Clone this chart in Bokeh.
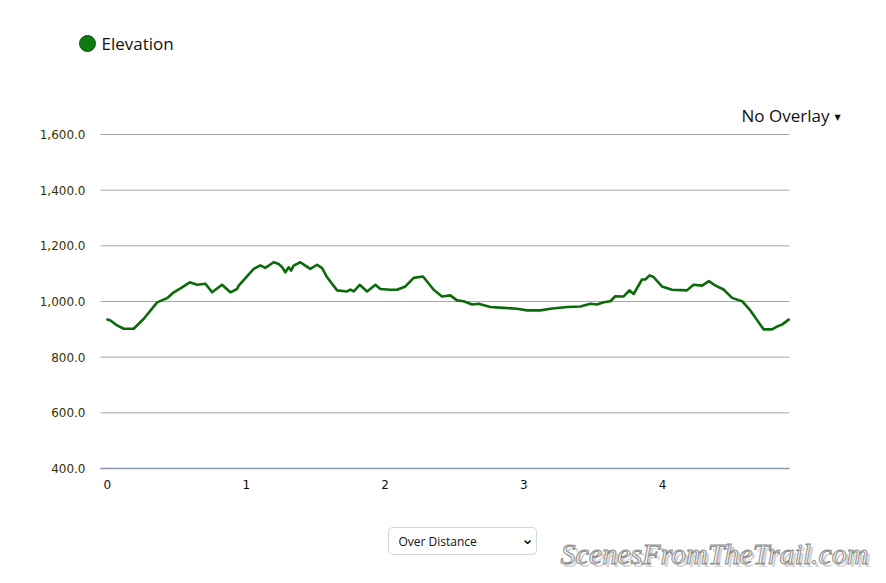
from bokeh.plotting import figure
from bokeh.models import BoxAnnotation, Range1d
from bokeh.core.properties import value
from bokeh.embed import file_html
from bokeh.resources import INLINE

# ---- data ----
distance_mi = [0.000, 0.022, 0.070, 0.117, 0.189, 0.262, 0.358, 0.430, 0.478, 0.538,
               0.593, 0.646, 0.706, 0.754, 0.826, 0.886, 0.934, 0.946, 1.054, 1.102,
               1.138, 1.198, 1.234, 1.259, 1.282, 1.306, 1.323, 1.342, 1.390, 1.426,
               1.462, 1.511, 1.547, 1.583, 1.655, 1.727, 1.751, 1.775, 1.818, 1.871,
               1.931, 1.967, 2.039, 2.087, 2.147, 2.207, 2.274, 2.351, 2.411, 2.471,
               2.519, 2.567, 2.628, 2.675, 2.759, 2.855, 2.952, 3.024, 3.120, 3.192,
               3.312, 3.408, 3.480, 3.528, 3.576, 3.624, 3.660, 3.720, 3.761, 3.792,
               3.852, 3.876, 3.907, 3.935, 3.996, 4.068, 4.176, 4.223, 4.285, 4.334,
               4.382, 4.440, 4.501, 4.573, 4.633, 4.728, 4.789, 4.825, 4.861, 4.909]
elevation_ft = [935, 932, 914, 902, 902, 938, 997, 1012, 1033, 1051,
                1069, 1060, 1064, 1033, 1060, 1033, 1045, 1057, 1117, 1130,
                1121, 1141, 1135, 1123, 1105, 1123, 1111, 1129, 1141, 1129,
                1117, 1132, 1120, 1087, 1040, 1036, 1043, 1036, 1060, 1036,
                1060, 1045, 1042, 1042, 1054, 1085, 1090, 1042, 1018, 1022,
                1004, 1001, 989, 992, 980, 977, 974, 968, 968, 974,
                980, 982, 992, 989, 997, 1001, 1019, 1018, 1040, 1027,
                1079, 1079, 1094, 1088, 1054, 1042, 1040, 1060, 1057, 1073,
                1057, 1043, 1013, 1001, 968, 900, 900, 910, 917, 935]
y_ticks = [400, 600, 800, 1000, 1200, 1400, 1600]
y_tick_labels = ["400.0", "600.0", "800.0", "1,000.0", "1,200.0", "1,400.0", "1,600.0"]
x_ticks = [0, 1, 2, 3, 4]
x_tick_labels = ["0", "1", "2", "3", "4"]
x_min, x_max = -0.05, 4.915          # plotted distance extent
y_min, y_max = 400, 1600             # plotted elevation extent
series_name = "Elevation"
overlay_text = "No Overlay"
select_text = "Over Distance"
watermark = "ScenesFromTheTrail.com"

W, H = 886, 583
# plot frame placement on the canvas (pixels)
PX_L, PX_R, PY_T, PY_B = 100, 789, 134, 468

LINE_GREEN = "#0b6b0b"
DOT_GREEN = "#0f7a0f"
TICK_FONT = "DejaVu Sans"
UI_FONT = "Open Sans"

# scales: data per pixel
sx = (x_max - x_min) / (PX_R - PX_L)
sy = (y_max - y_min) / (PY_B - PY_T)


def px2x(px):
    return x_min + (px - PX_L) * sx


def py2y(py):
    return y_min + (PY_B - py) * sy


p = figure(width=W, height=H, output_backend="svg", toolbar_location=None,
           x_range=Range1d(px2x(0), px2x(W)), y_range=Range1d(py2y(H), py2y(0)),
           min_border=0)
p.axis.visible = False
p.grid.visible = False
p.outline_line_color = None
p.background_fill_color = "white"
p.border_fill_color = "white"

# horizontal grid lines
p.segment(x0=[x_min] * len(y_ticks), x1=[x_max] * len(y_ticks), y0=y_ticks, y1=y_ticks,
          line_color="#a8a8a8", line_width=1)
# x axis line
p.segment(x0=[x_min], x1=[x_max], y0=[y_min], y1=[y_min],
          line_color="#8a96a8", line_width=1.5)

# tick labels
p.text(x=[px2x(PX_L - 15)] * len(y_ticks), y=y_ticks, text=y_tick_labels,
       text_font=value(TICK_FONT), text_font_size="12px", text_color="#333300",
       text_align="right", text_baseline="middle")
p.text(x=x_ticks, y=[py2y(PY_B + 16)] * len(x_ticks), text=x_tick_labels,
       text_font=value(TICK_FONT), text_font_size="12px", text_color="#111111",
       text_align="center", text_baseline="middle")

# elevation profile
p.line(distance_mi, elevation_ft, line_color=LINE_GREEN, line_width=2.6,
       line_join="round", line_cap="round")

# legend
p.scatter(x=[px2x(87)], y=[py2y(43)], marker="circle", size=16,
          fill_color=DOT_GREEN, line_color="#0a5a0a", line_width=1)
p.text(x=[px2x(101)], y=[py2y(43)], text=[series_name], text_font=value(UI_FONT),
       text_font_size="17px", text_color="#111111", text_align="left",
       text_baseline="middle")

# overlay dropdown
p.text(x=[px2x(741)], y=[py2y(115)], text=[overlay_text], text_font=value(UI_FONT),
       text_font_size="17px", text_color="#111111", text_align="left",
       text_baseline="middle")
p.text(x=[px2x(837)], y=[py2y(117)], text=["\u25BC"], text_font=value("DejaVu Sans"),
       text_font_size="8px", text_color="#111111", text_align="center",
       text_baseline="middle")

# select box
p.add_layout(BoxAnnotation(left=px2x(388), right=px2x(536), top=py2y(527),
                           bottom=py2y(554), fill_color="white", fill_alpha=1.0,
                           line_color="#767676", line_width=1, border_radius=4,
                           level="underlay"))
p.text(x=[px2x(398)], y=[py2y(541)], text=[select_text], text_font=value(UI_FONT),
       text_font_size="12px", text_color="#111111", text_align="left",
       text_baseline="middle")
p.text(x=[px2x(527)], y=[py2y(538)], text=["\u2304"], text_font=value("DejaVu Sans"),
       text_font_size="15px", text_color="#111111", text_align="center",
       text_baseline="middle", text_font_style="bold")

# watermark
p.text(x=[px2x(563)], y=[py2y(556)], text=[watermark], text_font=value("Liberation Serif"),
       text_font_size="30px", text_font_style="italic", text_color="#d4d4d4",
       text_align="left", text_baseline="middle")
p.text(x=[px2x(560)], y=[py2y(553)], text=[watermark], text_font=value("Liberation Serif"),
       text_font_size="30px", text_font_style="italic", text_color="#f7f7f7",
       text_outline_color="#8c8c8c", text_align="left", text_baseline="middle")

open("out.html", "w").write(file_html(p, INLINE))
